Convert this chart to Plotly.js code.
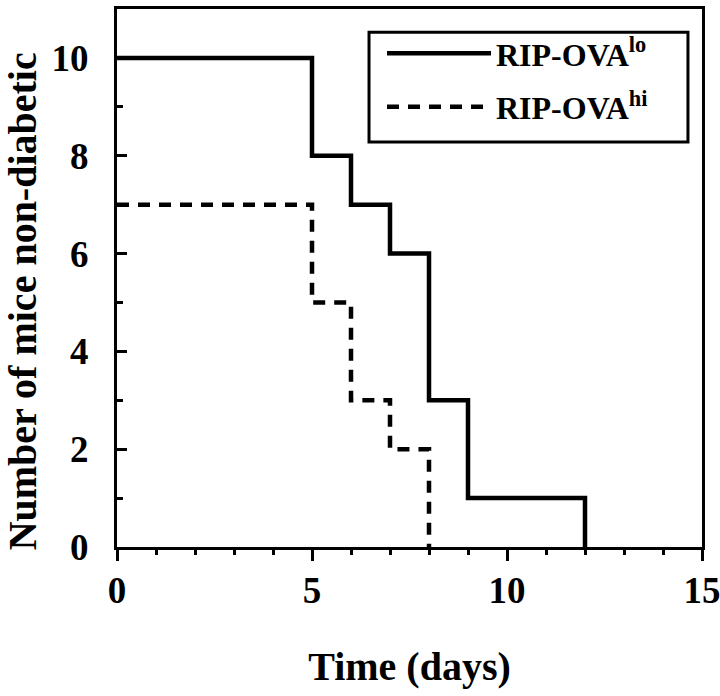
<!DOCTYPE html>
<html>
<head>
<meta charset="utf-8">
<script src="https://cdn.plot.ly/plotly-3.0.1.min.js"></script>
<style>html,body{margin:0;padding:0;background:#fff;}#chart{width:720px;height:696px;}</style>
</head>
<body>
<div id="chart"></div>
<script>
// Data (Kaplan-Meier style step curves)
var loDays = [0, 5, 6, 7, 8, 9, 12];
var loMice = [10, 8, 7, 6, 3, 1, 0];
var hiDays = [0, 5, 6, 7, 8];
var hiMice = [7, 5, 3, 2, 0];
var seriesNames = ['RIP-OVA<sup>lo</sup>', 'RIP-OVA<sup>hi</sup>'];
var xTickVals = [0, 5, 10, 15];
var yTickVals = [0, 2, 4, 6, 8, 10];
var xTitle = 'Time (days)';
var yTitle = 'Number of mice non-diabetic';

var FONT = 'Liberation Serif, Times New Roman, serif';

var traces = [
  {x: loDays, y: loMice, name: seriesNames[0], mode: 'lines', type: 'scatter',
   line: {shape: 'hv', color: '#000', width: 4.5}, legendgroup: 'a'},
  {x: hiDays, y: hiMice, name: seriesNames[1], mode: 'lines', type: 'scatter',
   line: {shape: 'hv', color: '#000', width: 4.5, dash: '12px,9px'}, legendgroup: 'b'}
];

var layout = {
  width: 720, height: 696,
  margin: {l: 117, r: 18, t: 9, b: 149},
  paper_bgcolor: '#fff', plot_bgcolor: '#fff',
  font: {family: FONT, color: '#000', weight: 700},
  showlegend: true,
  legend: {
    x: 0.453, y: 0.9685, xanchor: 'left', yanchor: 'top',
    borderwidth: 0, bgcolor: 'rgba(0,0,0,0)',
    font: {family: FONT, size: 32, color: '#000', weight: 700},
    tracegroupgap: 9, itemwidth: 104
  },
  shapes: [{
    type: 'rect', xref: 'paper', yref: 'paper',
    x0: 0.4308, x1: 0.976, y0: 0.7528, y1: 0.957,
    line: {color: '#000', width: 3}, fillcolor: 'rgba(0,0,0,0)', layer: 'above'
  }],
  xaxis: {
    range: [0, 15], tickvals: xTickVals, ticktext: xTickVals.map(String),
    ticks: 'outside', ticklen: 11, tickwidth: 3, tickcolor: '#000',
    minor: {dtick: 1, ticks: 'outside', ticklen: 5, tickwidth: 3, tickcolor: '#000'},
    showline: true, linecolor: '#000', linewidth: 3, mirror: true,
    showgrid: false, zeroline: false,
    tickfont: {family: FONT, size: 37, color: '#000', weight: 700},
    ticklabeloverflow: 'allow',
    ticklabelstandoff: -2,
    title: {text: xTitle, font: {family: FONT, size: 40, color: '#000', weight: 700}, standoff: 42}
  },
  yaxis: {
    range: [0, 11], tickvals: yTickVals, ticktext: yTickVals.map(String),
    ticks: 'inside', ticklen: 10, tickwidth: 3, tickcolor: '#000',
    minor: {dtick: 1, ticks: 'inside', ticklen: 6, tickwidth: 3, tickcolor: '#000'},
    showline: true, linecolor: '#000', linewidth: 3, mirror: true,
    showgrid: false, zeroline: false,
    tickfont: {family: FONT, size: 37, color: '#000', weight: 700},
    ticklabeloverflow: 'allow',
    ticklabelstandoff: 18
  },
  annotations: [{
    text: yTitle, textangle: -90, showarrow: false,
    xref: 'paper', yref: 'paper', x: -0.162, y: 0.457, xanchor: 'center', yanchor: 'middle',
    font: {family: FONT, size: 40, color: '#000', weight: 700}
  }]
};

Plotly.newPlot('chart', traces, layout, {displayModeBar: false, staticPlot: true});
</script>
</body>
</html>
